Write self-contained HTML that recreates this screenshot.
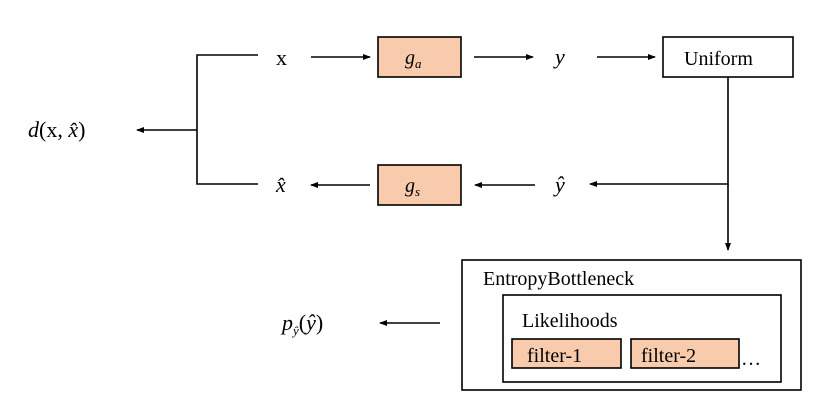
<!DOCTYPE html>
<html><head><style>
body{margin:0;background:#fff;}
svg text{font-family:"Liberation Serif",serif;}
</style></head><body>
<svg width="827" height="407" viewBox="0 0 827 407" xmlns="http://www.w3.org/2000/svg">
<defs><marker id="a" markerWidth="8" markerHeight="6" refX="7" refY="3" orient="auto" markerUnits="userSpaceOnUse"><path d="M0,0 L8,3 L0,6 Z" fill="#000"/></marker></defs>
<g stroke="#000" stroke-width="1.6" fill="none">
<polyline points="258,55 197,55 197,184 258,184"/>
<line x1="197" y1="130" x2="137" y2="130" marker-end="url(#a)"/>
<line x1="311" y1="57" x2="370" y2="57" marker-end="url(#a)"/>
<line x1="474" y1="57" x2="533" y2="57" marker-end="url(#a)"/>
<line x1="597" y1="57" x2="655" y2="57" marker-end="url(#a)"/>
<polyline points="728,77 728,184 590,184" marker-end="url(#a)"/>
<line x1="728" y1="184" x2="728" y2="250" marker-end="url(#a)"/>
<line x1="535" y1="185" x2="475" y2="185" marker-end="url(#a)"/>
<line x1="370" y1="185" x2="311" y2="185" marker-end="url(#a)"/>
<line x1="440" y1="323" x2="380" y2="323" marker-end="url(#a)"/>
</g>
<g stroke="#000" stroke-width="1.6">
<rect x="378" y="37" width="83" height="40" fill="#f8cbad"/>
<rect x="378" y="165" width="83" height="40" fill="#f8cbad"/>
<rect x="663" y="37" width="130" height="40" fill="#fff"/>
<rect x="462" y="260" width="339" height="130" fill="#fff"/>
<rect x="503" y="295" width="278" height="87" fill="#fff"/>
<rect x="512" y="339" width="109" height="29" fill="#f8cbad"/>
<rect x="631" y="339" width="108" height="29" fill="#f8cbad"/>
</g>
<g font-size="22" fill="#000">
<text x="276" y="65">x</text>
<text x="405" y="64" font-style="italic" font-size="20">g<tspan font-size="13" dy="4">a</tspan></text>
<text x="405" y="192" font-style="italic" font-size="20">g<tspan font-size="13" dy="4">s</tspan></text>
<text x="555" y="64" font-style="italic">y</text>
<text x="555" y="192" font-style="italic">ŷ</text>
<text x="276" y="192" font-style="italic">x̂</text>
<text x="28" y="137"><tspan font-style="italic">d</tspan>(x, <tspan font-style="italic">x̂</tspan>)</text>
<text x="282" y="330"><tspan font-style="italic">p</tspan><tspan font-size="13" font-style="italic" dy="5">ŷ</tspan><tspan dy="-5">(</tspan><tspan font-style="italic">ŷ</tspan>)</text>
</g>
<g font-size="20" fill="#000">
<text x="684" y="65">Uniform</text>
<text x="483" y="285">EntropyBottleneck</text>
<text x="522" y="327">Likelihoods</text>
<text x="527" y="362">filter-1</text>
<text x="641" y="362">filter-2</text>
<text x="741" y="365">…</text>
</g>
</svg>
</body></html>
